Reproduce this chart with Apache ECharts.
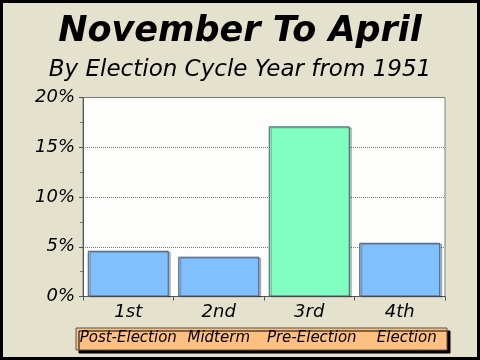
<!DOCTYPE html>
<html><head><meta charset="utf-8">
<script src="https://cdn.jsdelivr.net/npm/echarts@6/dist/echarts.min.js"></script>
<style>
html,body{margin:0;padding:0;background:#fff;}
#wrap{position:relative;width:480px;height:360px;}
#chart{position:absolute;left:0;top:0;width:480px;height:360px;}
#frame{position:absolute;left:0;top:0;width:480px;height:360px;box-sizing:border-box;border:3px solid #000;pointer-events:none;}
</style></head>
<body>
<div id="wrap"><div id="chart"></div><div id="frame"></div></div>
<script>
const categories = ['1st', '2nd', '3rd', '4th'];
const phaseLabels = ['Post-Election', 'Midterm', 'Pre-Election', 'Election'];
const values = [4.6, 4.0, 17.1, 5.4];
const barColors = ['#80C0FF', '#80C0FF', '#80FFC0', '#80C0FF'];
const titleText = 'November To April';
const subtitleText = 'By Election Cycle Year from 1951';

const font = 'DejaVu Sans, Verdana, sans-serif';
const chart = echarts.init(document.getElementById('chart'));
chart.setOption({
  backgroundColor: '#E4E2CC',
  animation: false,
  title: {
    text: titleText,
    subtext: subtitleText,
    left: 'center',
    top: 9,
    itemGap: 10,
    textStyle: {fontFamily: font, fontSize: 35, fontWeight: 'bold', fontStyle: 'italic', color: '#000'},
    subtextStyle: {fontFamily: font, fontSize: 23, fontStyle: 'italic', color: '#000'}
  },
  grid: {
    left: 83, right: 35, top: 97.5, bottom: 63.5,
    show: true, backgroundColor: '#FDFEFB', borderColor: '#808080', borderWidth: 1
  },
  graphic: [{
    type: 'rect', z: -1,
    shape: {x: 76, y: 328, width: 371, height: 22},
    style: {fill: '#FFC080', stroke: '#555', lineWidth: 1, shadowColor: '#000', shadowOffsetX: 3, shadowOffsetY: 3, shadowBlur: 0}
  }],
  xAxis: [{
    type: 'category', data: categories,
    axisLine: {lineStyle: {color: '#555'}},
    axisTick: {show: true, length: 4, lineStyle: {color: '#555'}},
    axisLabel: {fontFamily: font, fontSize: 18, fontStyle: 'italic', color: '#000', margin: 7}
  }, {
    type: 'category', data: phaseLabels, position: 'bottom', offset: 30, z: 10,
    axisLine: {show: false}, axisTick: {show: false},
    axisLabel: {
      interval: 0, hideOverlap: false,
      fontFamily: font, fontSize: 15, fontStyle: 'italic', color: '#000', margin: 4,
      formatter: (v, i) => i === 3 ? '{e|' + v + '}' : (i === 2 ? '{p|' + v + '}' : v),
      rich: {
        e: {fontFamily: font, fontSize: 15, fontStyle: 'italic', color: '#000', padding: [0, 0, 0, 14]},
        p: {fontFamily: font, fontSize: 15, fontStyle: 'italic', color: '#000', padding: [0, 0, 0, 5]}
      }
    }
  }],
  yAxis: {
    type: 'value', min: 0, max: 20, interval: 5,
    axisLine: {show: true, lineStyle: {color: '#555'}},
    axisTick: {show: true, length: 4, lineStyle: {color: '#555'}},
    minorTick: {show: true, splitNumber: 2, length: 3, lineStyle: {color: '#777'}},
    axisLabel: {fontFamily: font, fontSize: 18, fontStyle: 'italic', color: '#000', margin: 8, formatter: '{value}%'},
    splitLine: {show: true, lineStyle: {type: 'dotted', color: '#777'}}
  },
  series: [{
    type: 'bar',
    data: values.map((v, i) => ({value: v, itemStyle: {color: barColors[i]}})),
    barCategoryGap: '10.5%',
    itemStyle: {borderColor: '#4a5a70', borderWidth: 1, shadowColor: 'rgba(0,0,0,0.25)', shadowOffsetX: 2, shadowOffsetY: 1}
  }]
});
</script>
</body></html>
